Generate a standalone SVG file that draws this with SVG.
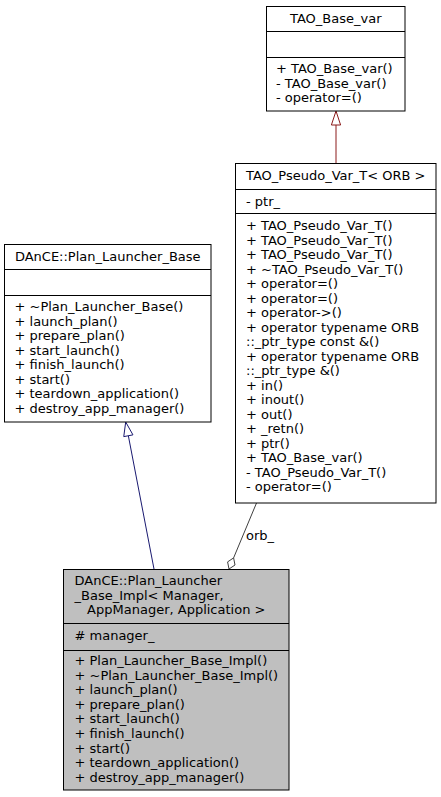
<svg xmlns="http://www.w3.org/2000/svg" width="441" height="797" viewBox="0 0 441 797">
<style>
.box{fill:#ffffff;stroke:#000000;stroke-width:1}
.cur{fill:#bfbfbf;stroke:#000000;stroke-width:1}
.sep{stroke:#000000;stroke-width:1}
text{font-family:"DejaVu Sans","Liberation Sans",sans-serif;font-size:13px;fill:#000000}
.c{text-anchor:middle}
.inh-r{stroke:#8b1a1a;stroke-width:1;fill:none}
.inh-b{stroke:#191970;stroke-width:1;fill:none}
.use{stroke:#404040;stroke-width:1;fill:none}
</style>
<rect width="441" height="797" fill="#ffffff"/>
<g id="connectors">
  <line class="inh-r" x1="336" y1="163" x2="336" y2="125"/>
  <polygon class="inh-r" style="fill:#ffffff" points="336,111 340.6,125 331.4,125"/>
  <line class="inh-b" x1="154" y1="569" x2="128.35" y2="435.75"/>
  <polygon class="inh-b" style="fill:#ffffff" points="125.7,422 132.95,434.86 123.75,436.64"/>
  <line class="use" x1="256.5" y1="503" x2="233.6" y2="557.9"/>
  <polygon class="use" style="fill:#ffffff" points="229,569 227.6,561.9 233.6,557.9 235,565"/>
  <text x="246" y="539.5">orb_</text>
</g>
<g id="TAO_Base_var">
  <rect class="box" x="266.5" y="6.5" width="138.5" height="104.5"/>
  <line class="sep" x1="266.5" y1="31.5" x2="405" y2="31.5"/>
  <line class="sep" x1="266.5" y1="57.5" x2="405" y2="57.5"/>
  <text class="c" x="335.75" y="23">TAO_Base_var</text>
  <text x="276" y="73">+ TAO_Base_var()</text>
  <text x="276" y="87.5">- TAO_Base_var()</text>
  <text x="276" y="102">- operator=()</text>
</g>
<g id="TAO_Pseudo_Var_T">
  <rect class="box" x="235.5" y="163.5" width="200.5" height="339.5"/>
  <line class="sep" x1="235.5" y1="189.5" x2="436" y2="189.5"/>
  <line class="sep" x1="235.5" y1="213.5" x2="436" y2="213.5"/>
  <text class="c" x="335.75" y="180">TAO_Pseudo_Var_T&lt; ORB &gt;</text>
  <text x="246" y="206">- ptr_</text>
  <text x="246" y="230">+ TAO_Pseudo_Var_T()</text>
  <text x="246" y="244.5">+ TAO_Pseudo_Var_T()</text>
  <text x="246" y="259">+ TAO_Pseudo_Var_T()</text>
  <text x="246" y="273.5">+ ~TAO_Pseudo_Var_T()</text>
  <text x="246" y="288">+ operator=()</text>
  <text x="246" y="302.5">+ operator=()</text>
  <text x="246" y="317">+ operator-&gt;()</text>
  <text x="246" y="331.5">+ operator typename ORB</text>
  <text x="246" y="346">::_ptr_type const &amp;()</text>
  <text x="246" y="360.5">+ operator typename ORB</text>
  <text x="246" y="375">::_ptr_type &amp;()</text>
  <text x="246" y="389.5">+ in()</text>
  <text x="246" y="404">+ inout()</text>
  <text x="246" y="418.5">+ out()</text>
  <text x="246" y="433">+ _retn()</text>
  <text x="246" y="447.5">+ ptr()</text>
  <text x="246" y="462">+ TAO_Base_var()</text>
  <text x="246" y="476.5">- TAO_Pseudo_Var_T()</text>
  <text x="246" y="491">- operator=()</text>
</g>
<g id="Plan_Launcher_Base">
  <rect class="box" x="4.5" y="244.5" width="206.5" height="177.5"/>
  <line class="sep" x1="4.5" y1="269.5" x2="211" y2="269.5"/>
  <line class="sep" x1="4.5" y1="295.5" x2="211" y2="295.5"/>
  <text class="c" x="107.75" y="261">DAnCE::Plan_Launcher_Base</text>
  <text x="14.5" y="311">+ ~Plan_Launcher_Base()</text>
  <text x="14.5" y="325.5">+ launch_plan()</text>
  <text x="14.5" y="340">+ prepare_plan()</text>
  <text x="14.5" y="354.5">+ start_launch()</text>
  <text x="14.5" y="369">+ finish_launch()</text>
  <text x="14.5" y="383.5">+ start()</text>
  <text x="14.5" y="398">+ teardown_application()</text>
  <text x="14.5" y="412.5">+ destroy_app_manager()</text>
</g>
<g id="Plan_Launcher_Base_Impl">
  <rect class="cur" x="63.5" y="569.5" width="225.5" height="220.5"/>
  <line class="sep" x1="63.5" y1="623.5" x2="289" y2="623.5"/>
  <line class="sep" x1="63.5" y1="650.5" x2="289" y2="650.5"/>
  <text x="74.5" y="585">DAnCE::Plan_Launcher</text>
  <text x="74.5" y="599.5">_Base_Impl&lt; Manager,</text>
  <text class="c" x="176.25" y="614">AppManager, Application &gt;</text>
  <text x="74.5" y="640"># manager_</text>
  <text x="74.5" y="665">+ Plan_Launcher_Base_Impl()</text>
  <text x="74.5" y="679.6">+ ~Plan_Launcher_Base_Impl()</text>
  <text x="74.5" y="694.2">+ launch_plan()</text>
  <text x="74.5" y="708.8">+ prepare_plan()</text>
  <text x="74.5" y="723.4">+ start_launch()</text>
  <text x="74.5" y="738">+ finish_launch()</text>
  <text x="74.5" y="752.6">+ start()</text>
  <text x="74.5" y="767.2">+ teardown_application()</text>
  <text x="74.5" y="781.8">+ destroy_app_manager()</text>
</g>
</svg>
